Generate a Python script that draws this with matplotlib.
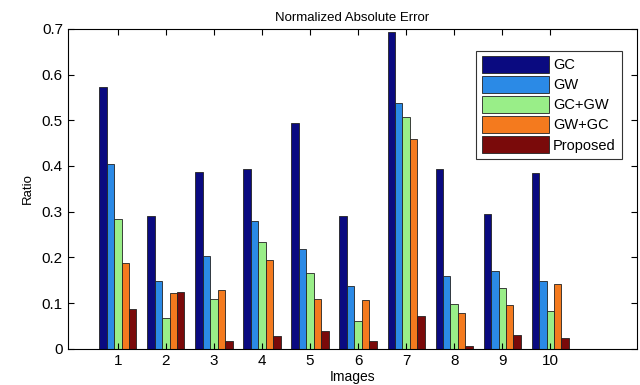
import numpy as np
import matplotlib.pyplot as plt

plt.rcParams['font.family'] = ['Liberation Sans', 'DejaVu Sans']

images = np.arange(1, 11)
series = ['GC', 'GW', 'GC+GW', 'GW+GC', 'Proposed']
gc = [0.573, 0.291, 0.387, 0.393, 0.494, 0.291, 0.694, 0.393, 0.294, 0.385]
gw = [0.405, 0.149, 0.202, 0.280, 0.218, 0.138, 0.537, 0.160, 0.171, 0.149]
gc_gw = [0.284, 0.068, 0.110, 0.233, 0.166, 0.060, 0.508, 0.098, 0.133, 0.083]
gw_gc = [0.188, 0.122, 0.129, 0.194, 0.108, 0.106, 0.459, 0.078, 0.096, 0.141]
proposed = [0.087, 0.124, 0.016, 0.028, 0.040, 0.018, 0.071, 0.006, 0.031, 0.024]
colors = ['#0a0a80', '#2b8ae6', '#99ee88', '#f47a1e', '#7a0a0a']

fig = plt.figure(figsize=(6.4, 3.85), dpi=100)
ax = fig.add_axes([0.106, 0.094, 0.889, 0.831])

w = 0.155
data = [gc, gw, gc_gw, gw_gc, proposed]
for i, (vals, name, c) in enumerate(zip(data, series, colors)):
    ax.bar(images + (i - 2) * w, vals, width=w, color=c, edgecolor='#222222',
           linewidth=0.6, label=name)

ax.set_xlim(-0.04, 11.8)
ax.set_ylim(0, 0.7)
ax.set_xticks(images)
ax.set_yticks(np.arange(0, 0.71, 0.1))
ax.set_yticklabels(['0', '0.1', '0.2', '0.3', '0.4', '0.5', '0.6', '0.7'])
ax.tick_params(direction='in', top=True, right=True, labelsize=11, length=4)
ax.set_title('Normalized Absolute Error', fontsize=9.5, pad=6)
ax.set_xlabel('Images', fontsize=10, labelpad=2)
ax.set_ylabel('Ratio', fontsize=9.5, labelpad=6)

leg = ax.legend(loc='upper right', bbox_to_anchor=(0.986, 0.955), fontsize=10.5,
                handlelength=4.6, handleheight=1.35, labelspacing=0.25,
                handletextpad=0.3, borderpad=0.4, fancybox=False,
                framealpha=1, edgecolor='#333333')
leg.get_frame().set_linewidth(0.8)

fig.savefig('out.png', dpi=100)
